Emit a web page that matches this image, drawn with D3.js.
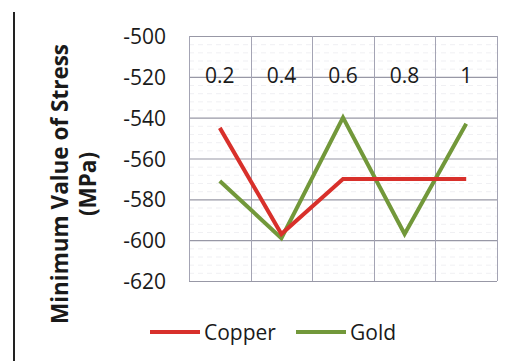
<!DOCTYPE html>
<html>
<head>
<meta charset="utf-8">
<script src="https://cdn.jsdelivr.net/npm/d3@7"></script>
<style>
  html, body { margin: 0; padding: 0; background: #fff; }
  svg { display: block; }
  text { font-family: "Open Sans", "Liberation Sans", sans-serif; fill: #1a1a1a; }
</style>
</head>
<body>
<svg id="chart" width="514" height="361"></svg>
<script>
// Volume fraction categories and minimum stress values (MPa)
const categories = ["0.2", "0.4", "0.6", "0.8", "1"];
const copper = [-545, -597, -570, -570, -570];
const gold = [-571, -599, -540, -597, -543];
const yTicks = [-500, -520, -540, -560, -580, -600, -620];
const seriesNames = ["Copper", "Gold"];
const seriesColors = ["#d8302b", "#72983a"];

const svg = d3.select("#chart");
const plot = { left: 189, right: 497, top: 36, bottom: 281 };

const x = d3.scaleBand().domain(categories).range([plot.left, plot.right]);
const y = d3.scaleLinear().domain([-620, -500]).range([plot.bottom, plot.top]);

// left border rule
svg.append("line")
  .attr("x1", 14).attr("x2", 14).attr("y1", 12).attr("y2", 361)
  .attr("stroke", "#222").attr("stroke-width", 2);

// minor horizontal gridlines
const minor = d3.range(-620, -500, 4).filter(v => v % 20 !== 0);
svg.append("g").selectAll("line").data(minor).join("line")
  .attr("x1", plot.left).attr("x2", plot.right)
  .attr("y1", d => y(d) + 0.5).attr("y2", d => y(d) + 0.5)
  .attr("stroke", "#d6d6de").attr("stroke-width", 1)
  .attr("stroke-dasharray", "5,4").attr("opacity", 0.35);

// major horizontal gridlines
svg.append("g").selectAll("line").data(yTicks).join("line")
  .attr("x1", plot.left).attr("x2", plot.right)
  .attr("y1", d => y(d) + 0.5).attr("y2", d => y(d) + 0.5)
  .attr("stroke", "#9898a6").attr("stroke-width", 1.2);

// vertical gridlines at category boundaries
const bounds = categories.map(c => x(c)).concat([plot.right]);
svg.append("g").selectAll("line").data(bounds).join("line")
  .attr("x1", d => Math.round(d) + 0.5).attr("x2", d => Math.round(d) + 0.5)
  .attr("y1", plot.top).attr("y2", plot.bottom)
  .attr("stroke", "#a4a4b4").attr("stroke-width", 1);

// y axis tick labels
svg.append("g").selectAll("text").data(yTicks).join("text")
  .attr("x", 166).attr("y", d => y(d))
  .attr("text-anchor", "end").attr("dominant-baseline", "central")
  .style("font-size", "21px")
  .text(d => d3.format("d")(d).replace("−", "-"));

// category labels, placed on the -520 gridline
svg.append("g").selectAll("text").data(categories).join("text")
  .attr("x", d => x(d) + x.bandwidth() / 2)
  .attr("y", y(-520) - 2)
  .attr("text-anchor", "middle").attr("dominant-baseline", "central")
  .style("font-size", "21px")
  .text(d => d);

// series lines
const line = d3.line()
  .x((d, i) => x(categories[i]) + x.bandwidth() / 2)
  .y(d => y(d));
[gold, copper].forEach((vals, k) => {
  const idx = k === 0 ? 1 : 0;
  svg.append("path").datum(vals)
    .attr("d", line)
    .attr("fill", "none")
    .attr("stroke", seriesColors[idx])
    .attr("stroke-width", 4)
    .attr("stroke-linejoin", "miter");
});

// y axis title
const title = svg.append("text")
  .attr("transform", "translate(68,184) rotate(-90)")
  .attr("text-anchor", "middle")
  .style("font-size", "22.5px").style("font-weight", "bold");
title.append("tspan").attr("x", 0).attr("dy", 0).text("Minimum Value of Stress");
title.append("tspan").attr("x", 0).attr("dy", 28).text("(MPa)");

// legend
const legendItems = [{ x: 150 }, { x: 296 }];
legendItems.forEach((it, i) => {
  svg.append("line")
    .attr("x1", it.x).attr("x2", it.x + 50)
    .attr("y1", 332).attr("y2", 332)
    .attr("stroke", seriesColors[i]).attr("stroke-width", 4);
  svg.append("text")
    .attr("x", it.x + 54).attr("y", 332)
    .attr("dominant-baseline", "central")
    .style("font-size", "21px")
    .text(seriesNames[i]);
});
</script>
</body>
</html>
